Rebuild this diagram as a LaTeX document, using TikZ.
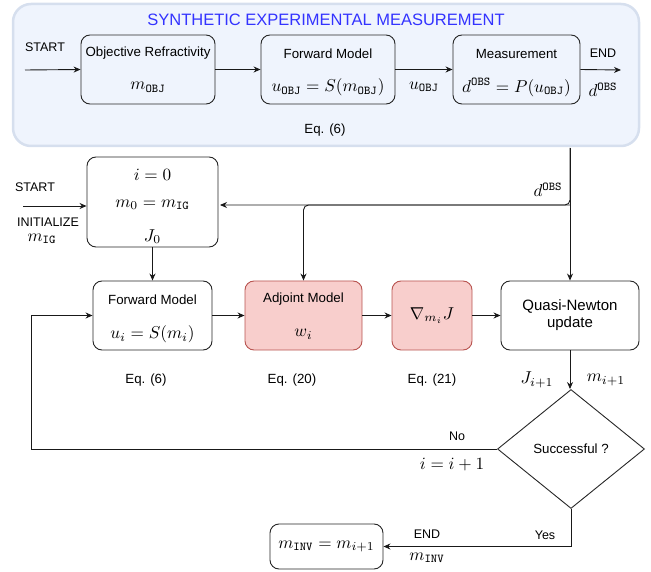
\documentclass[tikz,border=0pt]{standalone}
\usepackage{fontspec}
\usepackage{graphicx}
\setmainfont{Liberation Sans}
\usetikzlibrary{shapes.geometric,arrows.meta,calc}
\definecolor{panelfill}{RGB}{239,244,253}
\definecolor{paneldraw}{RGB}{214,223,238}
\definecolor{titleblue}{RGB}{51,51,255}
\definecolor{redfill}{RGB}{248,206,204}
\definecolor{reddraw}{RGB}{184,84,80}
\newcommand\mx[1]{\scalebox{1.72}{$#1$}}
\tikzset{
 box/.style={draw=black!85, line width=0.9pt, rounded corners=9pt, inner sep=0pt},
 redbox/.style={box, fill=redfill, draw=reddraw},
 lbl/.style={inner sep=1pt, font=\fontsize{13.3}{15}\selectfont},
 sml/.style={inner sep=1pt, font=\fontsize{12.5}{14}\selectfont},
 mth/.style={inner sep=1pt, font=\fontsize{10}{12}\selectfont},
 arr/.style={draw=black!90, line width=0.9pt, -{Stealth[length=7pt,width=6pt]}},
}
\begin{document}
\begin{tikzpicture}[x=1pt,y=-1pt]
\useasboundingbox (0,0) rectangle (651,572);
% panel
\node[draw=paneldraw, fill=panelfill, line width=2.5pt, rounded corners=18pt,
      minimum width=626pt, minimum height=142pt, inner sep=0pt] (panel) at (326,75) {};
\node[font=\fontsize{16.5}{18}\selectfont, text=titleblue, inner sep=0pt] (title) at (326,20) {SYNTHETIC EXPERIMENTAL MEASUREMENT};
% top row
\node[box, minimum width=134pt, minimum height=69pt] (obj) at (148,69.5) {};
\node[lbl] (objt) at ([yshift=-19pt]obj.north) {Objective Refractivity};
\node[mth] (objm) at ([yshift=17pt]obj.south) {\mx{m_{\mathtt{OBJ}}}};
\node[box, minimum width=134pt, minimum height=69pt] (fwd) at (328,69.5) {};
\node[lbl] (fwdt) at ([yshift=-19pt]fwd.north) {Forward Model};
\node[mth] (fwdm) at ([yshift=17pt]fwd.south) {\mx{u_{\mathtt{OBJ}} = S(m_{\mathtt{OBJ}})}};
\node[box, minimum width=127pt, minimum height=69pt] (meas) at (516.5,69.5) {};
\node[lbl] (meast) at ([yshift=-19pt]meas.north) {Measurement};
\node[mth] (measm) at ([yshift=17pt]meas.south) {\mx{d^{\mathtt{OBS}} = P(u_{\mathtt{OBJ}})}};
\coordinate (s1) at (25,70);
\coordinate (e1) at (621,70);
\node[sml] (start1) at (45,47) {START};
\node[sml] (end1) at (603,53) {END};
\node[mth] (dobs1) at (603,90) {\mx{d^{\mathtt{OBS}}}};
\node[mth] (uobj) at (424,87) {\mx{u_{\mathtt{OBJ}}}};
\node[lbl] (eqtop) at (325,130) {Eq. (6)};
\draw[arr] (s1) -- (obj.west);
\draw[arr] (obj.east) -- (fwd.west);
\draw[arr] (fwd.east) -- (meas.west);
\draw[arr] (meas.east) -- (e1);
% init
\node[box, minimum width=131pt, minimum height=90pt] (init) at (152.5,202) {};
\node[mth] (initi) at ([yshift=-18pt]init.north) {\mx{i=0}};
\node[mth] (initm) at ([yshift=-3pt]init.center) {\mx{m_0 = m_{\mathtt{IG}}}};
\node[mth] (initj) at ([yshift=11pt]init.south) {\mx{J_0}};
\coordinate (s2) at (23,206);
\node[sml] (start2) at (35,187) {START};
\node[sml] (initz) at (48,222) {INITIALIZE};
\node[mth] (mig) at (42,239) {\mx{m_{\mathtt{IG}}}};
\draw[arr] (s2) -- (s2 -| init.west);
% second row
\node[box, minimum width=119pt, minimum height=69pt] (fm2) at (152.5,315.5) {};
\node[lbl] (fm2t) at ([yshift=-19pt]fm2.north) {Forward Model};
\node[mth] (fm2m) at ([yshift=16pt]fm2.south) {\mx{u_i = S(m_i)}};
\node[redbox, minimum width=117pt, minimum height=69pt] (adj) at (303.5,315.5) {};
\node[lbl] (adjt) at ([yshift=-19pt]adj.north) {Adjoint Model};
\node[mth] (adjm) at ([yshift=16pt]adj.south) {\mx{w_i}};
\node[redbox, minimum width=80pt, minimum height=69pt, font=\fontsize{10}{12}\selectfont] (grad) at (432,315.5) {\mx{\nabla_{m_i} J}};
\node[box, minimum width=138pt, minimum height=69pt, align=center, font=\fontsize{15}{17}\selectfont] (qn) at (570,315.5) {Quasi-Newton\\update};
\node[lbl] (eq6) at (146,380) {Eq. (6)};
\node[lbl] (eq20) at (292,380) {Eq. (20)};
\node[lbl] (eq21) at (432,380) {Eq. (21)};
\node[mth] (jn) at (537,380) {\mx{J_{i+1}}};
\node[mth] (mn) at (606,380) {\mx{m_{i+1}}};
% d obs feed
\coordinate (dsrc) at (570,148);
\coordinate (bus) at (220,205);
\draw[arr] (dsrc) -- (qn.north);
\draw[arr, rounded corners=5pt] (dsrc) |- (bus);
\draw[arr, rounded corners=5pt] (570,205) -- (bus -| adj.north) -- (adj.north);
\node[mth] (dobs2) at (548,190) {\mx{d^{\mathtt{OBS}}}};
\draw[arr] (init.south) -- (fm2.north);
\draw[arr] (fm2.east) -- (adj.west);
\draw[arr] (adj.east) -- (grad.west);
\draw[arr] (grad.east) -- (qn.west);
% decision
\node[draw=black!85, line width=0.9pt, diamond, minimum width=147pt, minimum height=119pt, inner sep=0pt, font=\fontsize{13.3}{15}\selectfont] (dec) at (571,449) {Successful ?};
\draw[arr] (qn.south) -- (qn.south |- dec.north);
\coordinate (lp) at (31,449);
\draw[arr] (dec.west) -- (lp) |- (fm2.west);
\node[sml] (no) at (457,436) {No};
\node[mth] (inc) at (452,465) {\mx{i = i+1}};
% final
\node[box, minimum width=113pt, minimum height=45pt, font=\fontsize{10}{12}\selectfont] (fin) at (326.5,546.5) {\mx{m_{\mathtt{INV}} = m_{i+1}}};
\draw[arr] (dec.south) |- (fin.east);
\node[sml] (yes) at (545,535) {Yes};
\node[sml] (end2) at (427,534) {END};
\node[mth] (minv) at (427,558) {\mx{m_{\mathtt{INV}}}};
\end{tikzpicture}
\end{document}
